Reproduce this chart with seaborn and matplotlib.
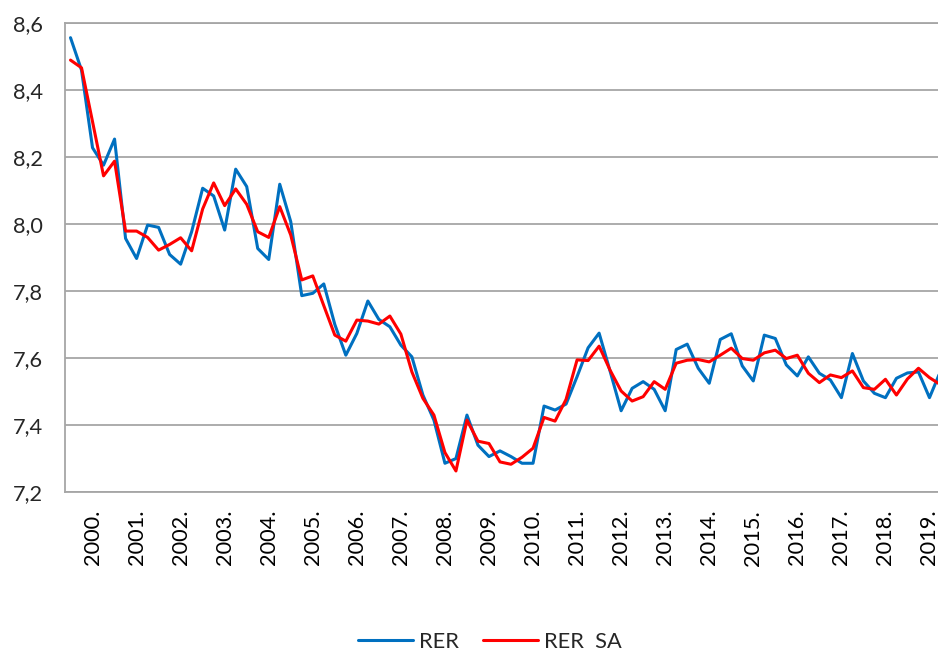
import numpy as np
import pandas as pd
import matplotlib
matplotlib.use('Agg')
import matplotlib.pyplot as plt
from matplotlib.ticker import FuncFormatter
import seaborn as sns

# quarterly series, first label ("2000.") sits on the 3rd point
years = [f'{y}.' for y in range(2000, 2020)]

rer = [8.557, 8.460, 8.228, 8.176, 8.254, 7.957, 7.897, 7.997, 7.990, 7.909,
       7.880, 7.977, 8.107, 8.084, 7.982, 8.164, 8.112, 7.927, 7.894, 8.119,
       8.007, 7.786, 7.793, 7.821, 7.700, 7.608, 7.673, 7.770, 7.715, 7.693,
       7.638, 7.603, 7.489, 7.414, 7.285, 7.299, 7.429, 7.339, 7.305, 7.322,
       7.305, 7.285, 7.285, 7.456, 7.444, 7.462, 7.544, 7.630, 7.674, 7.560,
       7.442, 7.509, 7.529, 7.506, 7.442, 7.625, 7.641, 7.569, 7.524, 7.655,
       7.672, 7.576, 7.531, 7.668, 7.658, 7.579, 7.546, 7.603, 7.554, 7.534,
       7.481, 7.613, 7.531, 7.494, 7.481, 7.539, 7.555, 7.558, 7.481, 7.560]

rer_sa = [8.490, 8.467, 8.306, 8.144, 8.188, 7.979, 7.979, 7.960, 7.922, 7.939,
          7.959, 7.920, 8.045, 8.123, 8.055, 8.105, 8.059, 7.977, 7.960, 8.052,
          7.967, 7.833, 7.845, 7.756, 7.668, 7.650, 7.713, 7.710, 7.701, 7.725,
          7.671, 7.558, 7.479, 7.429, 7.317, 7.262, 7.414, 7.351, 7.344, 7.289,
          7.282, 7.303, 7.330, 7.422, 7.411, 7.476, 7.594, 7.592, 7.635, 7.563,
          7.501, 7.471, 7.484, 7.529, 7.506, 7.584, 7.593, 7.595, 7.588, 7.608,
          7.629, 7.598, 7.593, 7.615, 7.623, 7.598, 7.608, 7.554, 7.526, 7.549,
          7.541, 7.561, 7.511, 7.506, 7.536, 7.489, 7.537, 7.569, 7.541, 7.520]

series_names = ['RER', 'RER  SA']
colors = ['#0070C0', '#FF0000']

df = pd.DataFrame({'t': range(len(rer)), 'RER': rer, 'RER  SA': rer_sa})
long_df = df.melt(id_vars='t', var_name='series', value_name='value')

sns.set_style('white')
plt.rcParams['font.family'] = ['Lato', 'DejaVu Sans']
grid_col = '#A6A6A6'
fs = 15.7

fig = plt.figure(figsize=(9.38, 6.54), dpi=100)
ax = fig.add_axes([65 / 938, 1 - 491.7 / 654, 881 / 938, 468.4 / 654])

sns.lineplot(data=long_df, x='t', y='value', hue='series', hue_order=series_names,
             palette=colors, linewidth=2.2, ax=ax, legend=False)

ax.set_xlim(-0.5, len(rer) - 0.5)
ax.set_ylim(7.2, 8.6)
ax.set_yticks(np.arange(7.2, 8.61, 0.2))
ax.yaxis.set_major_formatter(FuncFormatter(lambda v, _: f'{v:.1f}'.replace('.', ',')))
ax.yaxis.grid(True, color=grid_col, lw=1.3)
ax.set_axisbelow(True)

ax.set_xticks(range(2, len(rer), 4))
ax.set_xticklabels(years, rotation=90)
ax.set_xticks(np.arange(3.5, len(rer), 4), minor=True)
ax.tick_params(axis='x', which='major', length=0, pad=13, labelsize=fs, colors='black')
ax.tick_params(axis='x', which='minor', length=6, width=1.3, direction='in', color=grid_col)
ax.tick_params(axis='y', length=0, pad=16, labelsize=fs)
ax.set_xlabel('')
ax.set_ylabel('')

for side in ['left', 'bottom', 'top']:
    ax.spines[side].set_color(grid_col)
    ax.spines[side].set_linewidth(1.3)
ax.spines['right'].set_visible(False)

handles = ax.get_lines()[:2]
fig.legend(handles, series_names, loc='center', bbox_to_anchor=(490 / 938, 1 - 642 / 654),
           ncol=2, frameon=False, fontsize=fs, handlelength=2.5, handletextpad=0.3,
           columnspacing=1.1, borderpad=0, borderaxespad=0)

fig.savefig('out.png', dpi=100)
